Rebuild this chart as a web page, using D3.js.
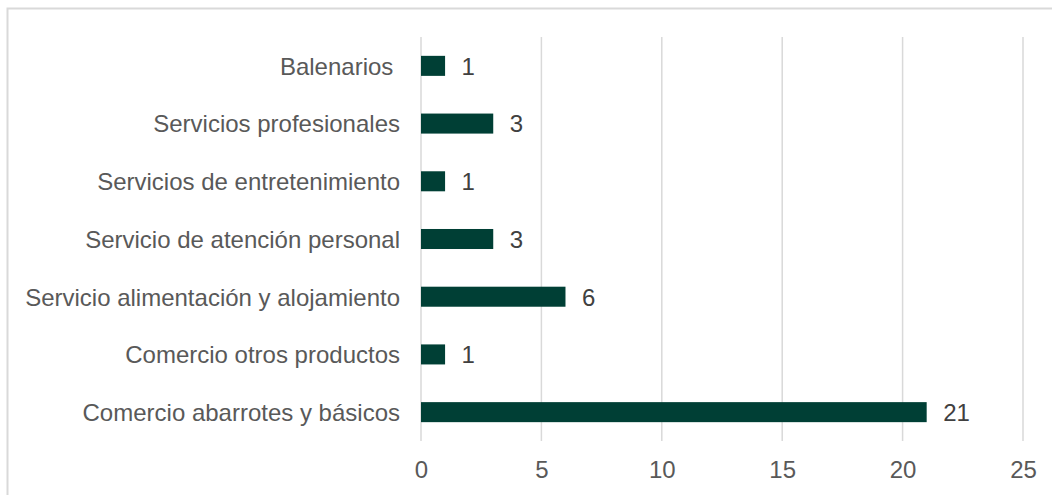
<!DOCTYPE html>
<html>
<head>
<meta charset="utf-8">
<script src="https://cdn.jsdelivr.net/npm/d3@7"></script>
<style>
  body { margin: 0; background: #fff; }
  svg { display: block; font-family: "Liberation Sans", Arial, sans-serif; }
</style>
</head>
<body>
<div id="chart"></div>
<script>
// categories top to bottom
var categories = [
  "Balenarios ",
  "Servicios profesionales",
  "Servicios de entretenimiento",
  "Servicio de atención personal",
  "Servicio alimentación y alojamiento",
  "Comercio otros productos",
  "Comercio abarrotes y básicos"
];
var values = [1, 3, 1, 3, 6, 1, 21];
var tickValues = [0, 5, 10, 15, 20, 25];

function draw() {
  var width = 1052, height = 495;
  var textColor = "#595959";
  var fontSize = "24px";

  var svg = d3.select("#chart").append("svg")
    .attr("width", width)
    .attr("height", height);

  // chart frame (only top/left visible in the crop)
  svg.append("rect")
    .attr("x", 7.5).attr("y", 8.5)
    .attr("width", 1100).attr("height", 600)
    .attr("fill", "none")
    .attr("stroke", "#d9d9d9")
    .attr("stroke-width", 2);

  var x = d3.scaleLinear().domain([0, 25]).range([421, 1023]);
  var y = d3.scaleBand().domain(categories).range([37, 441]).paddingInner(0.653).paddingOuter(0.3265);

  // gridlines
  svg.append("g").selectAll("line")
    .data(tickValues)
    .join("line")
    .attr("x1", d => x(d)).attr("x2", d => x(d))
    .attr("y1", 37).attr("y2", 441)
    .attr("stroke", "#d9d9d9")
    .attr("stroke-width", 1.5);

  // x axis labels
  var xAxis = d3.axisBottom(x).tickValues(tickValues).tickSize(0).tickPadding(0);
  var gx = svg.append("g").attr("transform", "translate(0,461)").call(xAxis);
  gx.select(".domain").remove();
  gx.selectAll("text")
    .attr("fill", textColor)
    .attr("font-size", fontSize)
    .attr("font-family", "Liberation Sans, Arial, sans-serif");

  // category labels
  var yAxis = d3.axisLeft(y).tickSize(0).tickPadding(0);
  var gy = svg.append("g").attr("transform", "translate(400,0)").call(yAxis);
  gy.select(".domain").remove();
  gy.selectAll("text")
    .attr("fill", textColor)
    .attr("font-size", fontSize)
    .attr("dy", "0.37em")
    .attr("font-family", "Liberation Sans, Arial, sans-serif")
    .style("white-space", "pre");

  // bars
  svg.append("g").selectAll("rect")
    .data(values)
    .join("rect")
    .attr("x", x(0))
    .attr("y", (d, i) => y(categories[i]))
    .attr("width", d => x(d) - x(0))
    .attr("height", y.bandwidth())
    .attr("fill", "#003f35");

  // value labels
  svg.append("g").selectAll("text")
    .data(values)
    .join("text")
    .attr("x", d => x(d) + 16.5)
    .attr("y", (d, i) => y(categories[i]) + y.bandwidth() / 2)
    .attr("dy", "0.37em")
    .attr("fill", "#404040")
    .attr("font-size", fontSize)
    .text(d => d);
}

if (window.addEventListener) {
  window.addEventListener('load', draw, false);
} else {
  window.attachEvent('onload', draw);
}
</script>
</body>
</html>
